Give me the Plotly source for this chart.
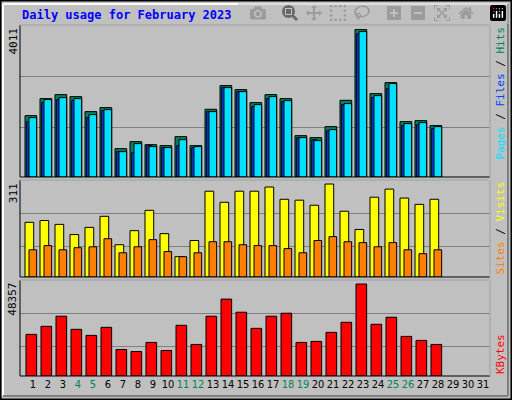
import plotly.graph_objects as go

days = list(range(1, 29))
all_days = list(range(1, 32))
weekend = {4, 5, 11, 12, 18, 19, 25, 26}
hits = [1670,2133,2242,2187,1779,1888,771,962,880,853,1098,853,1842,2487,2378,2024,2242,2133,1125,1071,1370,2087,4011,2269,2568,1506,1534,1398]
files = [1506,2024,2105,2078,1615,1806,690,662,853,799,853,799,1779,2432,2323,1915,2133,2051,1071,1016,1261,1969,3902,2160,2405,1398,1425,1316]
pages = [1615,2105,2160,2133,1697,1833,690,908,826,799,1016,826,1779,2432,2323,1969,2187,2078,1071,989,1289,1997,3957,2214,2541,1452,1479,1370]
visits = [183,189,176,142,166,203,108,155,223,145,68,122,287,250,287,287,301,260,257,240,311,220,159,267,294,264,243,260]
sites = [91,105,91,98,101,128,81,101,125,85,68,81,118,118,108,105,105,95,81,122,135,118,115,101,115,91,78,91]
kbytes = [21886,26122,31417,24533,21356,25590,13943,12884,17649,13413,26650,16590,31417,40418,33534,25062,31417,33004,17649,18179,22944,28239,48357,27180,30886,20826,18708,16590]
max_hits, max_visits, max_kb = 4011, 311, 48357

fig = go.Figure()
ln = dict(color="black", width=1)
def bar(y, color, off, w, ax):
    fig.add_trace(go.Bar(x=days, y=y, marker=dict(color=color, line=ln), offset=off, width=w,
                         xaxis="x" if ax == "y" else "x" + ax[1:], yaxis=ax, hoverinfo="skip"))
bar(hits, "#00805c", -0.533, 0.78, "y")
bar(files, "#0040ff", -0.42, 0.35, "y")
bar(pages, "#00e0ff", -0.267, 0.51, "y")
bar(visits, "#ffff00", -0.533, 0.58, "y2")
bar(sites, "#ff8000", -0.267, 0.51, "y2")
bar(kbytes, "#ff0000", -0.467, 0.71, "y3")

xr = [1 - 13/15, 1 + 457/15]
xd = [20/512, 490/512]
ticktext = [f'<span style="color:{"#00805c" if d in weekend else "black"}">{d}</span>' for d in all_days]
common_x = dict(range=xr, domain=xd, showgrid=False, zeroline=False, fixedrange=True)
yax = dict(showticklabels=False, ticks="", gridcolor="#808080", gridwidth=1, zeroline=False)
fig.update_layout(
    width=512, height=400, margin=dict(l=0, r=0, t=0, b=0),
    paper_bgcolor="#c0c0c0", plot_bgcolor="#c0c0c0", showlegend=False, barmode="overlay",
    font=dict(family="DejaVu Sans Mono", size=11, color="black"),
    xaxis=dict(**common_x, anchor="y", showticklabels=False),
    xaxis2=dict(**common_x, anchor="y2", showticklabels=False),
    xaxis3=dict(**common_x, anchor="y3", tickmode="array", tickvals=all_days, ticktext=ticktext,
                ticks="", tickangle=0, tickfont=dict(size=11, family="DejaVu Sans Condensed")),
    yaxis=dict(**yax, domain=[0.5575, 0.9375], range=[0, 4136], tickvals=[1352, 2740]),
    yaxis2=dict(**yax, domain=[0.3075, 0.55], range=[0, 324.5], tickvals=[101.4, 213]),
    yaxis3=dict(**yax, domain=[0.06, 0.30], range=[0, 50473], tickvals=[15555, 33013]),
)
shapes = [
    dict(type="rect", xref="paper", yref="paper", x0=0.001, x1=0.999, y0=0.001, y1=0.999, line=dict(color="black", width=2)),
    dict(type="line", xref="paper", yref="paper", x0=3/512, x1=3/512, y0=4/400, y1=396/400, line=dict(color="white", width=2)),
    dict(type="line", xref="paper", yref="paper", x0=3/512, x1=508/512, y0=396/400, y1=396/400, line=dict(color="white", width=2)),
    dict(type="line", xref="paper", yref="paper", x0=508/512, x1=508/512, y0=4/400, y1=396/400, line=dict(color="#808080", width=2)),
    dict(type="line", xref="paper", yref="paper", x0=3/512, x1=508/512, y0=4/400, y1=4/400, line=dict(color="#808080", width=2)),
]
for y0, y1 in [(0.5575, 0.9375), (0.3075, 0.55), (0.06, 0.30)]:
    shapes.append(dict(type="rect", xref="paper", yref="paper", x0=xd[0], x1=xd[1], y0=y0, y1=y1, line=dict(color="black", width=1)))
    shapes.append(dict(type="line", xref="paper", yref="paper", x0=xd[0], x1=xd[1], y0=y1, y1=y1, line=dict(color="white", width=1)))
    shapes.append(dict(type="line", xref="paper", yref="paper", x0=xd[1], x1=xd[1], y0=y0, y1=y1, line=dict(color="white", width=1)))
fig.update_layout(shapes=shapes)

ann = [
    dict(x=20/512, y=1-15/400, text="<b>Daily usage for February 2023</b>", font=dict(color="#0000ff", size=12), xanchor="left", yanchor="middle"),
    dict(x=13/512, y=0.935, text=str(max_hits), textangle=-90, xanchor="center", yanchor="top", font=dict(size=11)),
    dict(x=13/512, y=0.547, text=str(max_visits), textangle=-90, xanchor="center", yanchor="top", font=dict(size=11)),
    dict(x=13/512, y=0.297, text=str(max_kb), textangle=-90, xanchor="center", yanchor="top", font=dict(size=11)),
    dict(x=500/512, y=0.9375, yanchor="top", textangle=-90, xanchor="center", font=dict(size=11),
         text='<span style="color:#00e0ff">Pages</span> / <span style="color:#0040ff">Files</span> / <span style="color:#00805c">Hits</span>'),
    dict(x=500/512, y=0.55, yanchor="top", textangle=-90, xanchor="center", font=dict(size=11),
         text='<span style="color:#ff8000">Sites</span> / <span style="color:#ffff00">Visits</span>'),
    dict(x=500/512, y=0.06, yanchor="bottom", textangle=-90, xanchor="center", font=dict(size=11),
         text='<span style="color:#ff0000">KBytes</span>'),
]
for a in ann:
    a.update(xref="paper", yref="paper", showarrow=False)
fig.update_layout(annotations=ann)
fig.write_html("out.html", post_script="document.body.style.margin='0';")
